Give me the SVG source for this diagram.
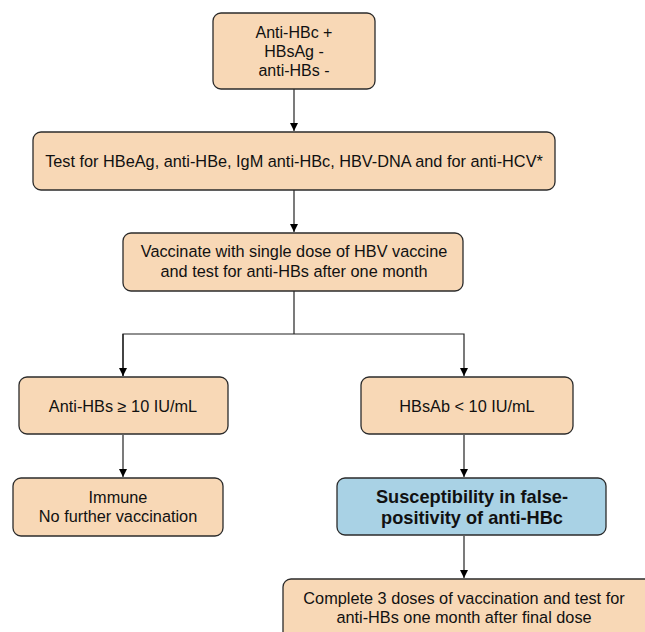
<svg xmlns="http://www.w3.org/2000/svg" width="645" height="632" viewBox="0 0 645 632">
<defs>
<marker id="ah" viewBox="0 0 10 10" refX="10" refY="5" markerWidth="8" markerHeight="8" markerUnits="userSpaceOnUse" orient="auto">
<path d="M0,0 L10,5 L0,10 z" fill="#000"/>
</marker>
<style>
.box{fill:#f8d8b6;stroke:#2b2b2b;stroke-width:1.3}
.blue{fill:#a9d2e5;stroke:#2b2b2b;stroke-width:1.3}
.t{font-family:"Liberation Sans",Arial,sans-serif;font-size:16.3px;fill:#111;text-anchor:middle}
.b{font-family:"Liberation Sans",Arial,sans-serif;font-size:18.2px;font-weight:bold;fill:#111;text-anchor:middle}
.c{fill:none;stroke:#222;stroke-width:1.2}
</style>
</defs>
<rect width="645" height="632" fill="#fff"/>
<g id="connectors">
<line class="c" x1="294" y1="89" x2="294" y2="131" marker-end="url(#ah)"/>
<line class="c" x1="294" y1="190" x2="294" y2="232" marker-end="url(#ah)"/>
<polyline class="c" points="294,291 294,334"/>
<polyline class="c" points="123,376 123,334 464,334 464,376" marker-end="url(#ah)"/>
<line class="c" x1="123" y1="334" x2="123" y2="376" marker-end="url(#ah)"/>
<line class="c" x1="123" y1="435" x2="123" y2="477" marker-end="url(#ah)"/>
<line class="c" x1="464" y1="435" x2="464" y2="477" marker-end="url(#ah)"/>
<line class="c" x1="464" y1="536" x2="464" y2="578" marker-end="url(#ah)"/>
</g>
<g id="n1">
<rect class="box" x="213" y="13" width="162" height="76" rx="8"/>
<text class="t" x="294" y="38" style="font-size:16px">Anti-HBc +</text>
<text class="t" x="294" y="57" style="font-size:16px">HBsAg -</text>
<text class="t" x="294" y="76" style="font-size:16px">anti-HBs -</text>
</g>
<g id="n2">
<rect class="box" x="33" y="132" width="522" height="58" rx="8"/>
<text class="t" x="294" y="167">Test for HBeAg, anti-HBe, IgM anti-HBc, HBV-DNA and for anti-HCV*</text>
</g>
<g id="n3">
<rect class="box" x="123" y="233" width="340" height="58" rx="8"/>
<text class="t" x="294" y="257">Vaccinate with single dose of HBV vaccine</text>
<text class="t" x="294" y="277">and test for anti-HBs after one month</text>
</g>
<g id="n4">
<rect class="box" x="19" y="377" width="209" height="57" rx="8"/>
<text class="t" x="123" y="412">Anti-HBs ≥ 10 IU/mL</text>
</g>
<g id="n5">
<rect class="box" x="361" y="377" width="212" height="57" rx="8"/>
<text class="t" x="467" y="412">HBsAb &lt; 10 IU/mL</text>
</g>
<g id="n6">
<rect class="box" x="13" y="478" width="210" height="58" rx="8"/>
<text class="t" x="118" y="503">Immune</text>
<text class="t" x="118" y="522">No further vaccination</text>
</g>
<g id="n7">
<rect class="blue" x="337" y="478" width="269" height="57" rx="8"/>
<text class="b" x="472" y="503">Susceptibility in false-</text>
<text class="b" x="472" y="524">positivity of anti-HBc</text>
</g>
<g id="n8">
<rect class="box" x="283" y="579" width="380" height="70" rx="8"/>
<text class="t" x="464" y="604">Complete 3 doses of vaccination and test for</text>
<text class="t" x="464" y="623">anti-HBs one month after final dose</text>
</g>
</svg>
